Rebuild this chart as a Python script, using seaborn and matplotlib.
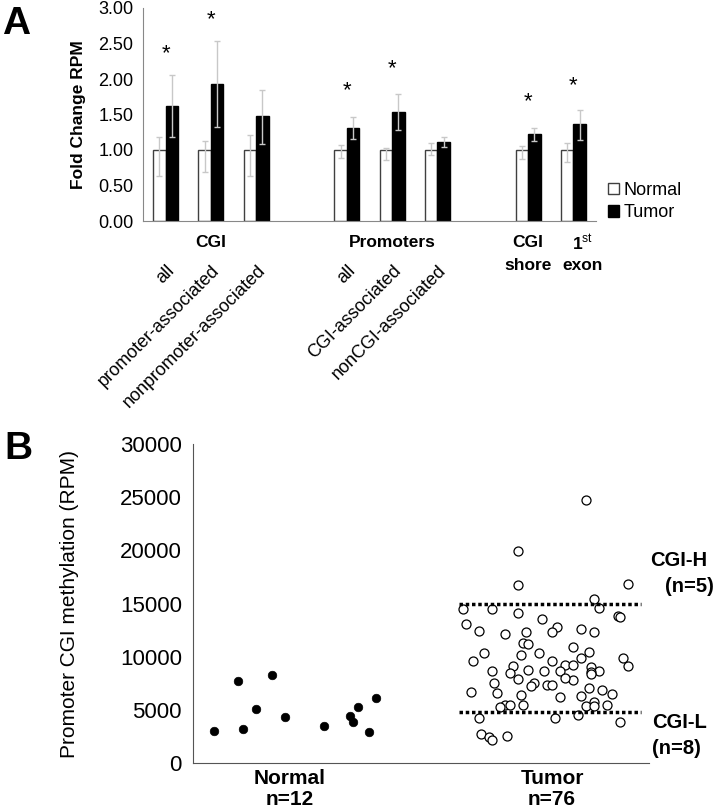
import matplotlib
matplotlib.use('Agg')
import matplotlib.pyplot as plt
from matplotlib.patches import Patch
import seaborn as sns
import pandas as pd
import numpy as np

# ---- panel A data: fold change RPM (normal = 1.00) ----
slot_keys = ['cgi_all', 'cgi_prom', 'cgi_nonprom', 'gap1',
             'prom_all', 'prom_cgi', 'prom_noncgi', 'gap2',
             'cgi_shore', 'exon1']
regions = ['cgi_all', 'cgi_prom', 'cgi_nonprom',
           'prom_all', 'prom_cgi', 'prom_noncgi',
           'cgi_shore', 'exon1']
region_labels = ['all', 'promoter-associated', 'nonpromoter-associated',
                 'all', 'CGI-associated', 'nonCGI-associated', '', '']
normal_mean = [1.00, 1.00, 1.00, 1.00, 1.00, 1.00, 1.00, 1.00]
normal_hi = [1.18, 1.12, 1.21, 1.07, 1.03, 1.10, 1.05, 1.10]
normal_lo = [0.64, 0.69, 0.64, 0.89, 0.86, 0.93, 0.87, 0.83]
tumor_mean = [1.62, 1.93, 1.48, 1.31, 1.54, 1.11, 1.22, 1.36]
tumor_hi = [2.06, 2.54, 1.84, 1.47, 1.79, 1.18, 1.31, 1.56]
tumor_lo = [1.19, 1.33, 1.09, 1.15, 1.28, 1.04, 1.12, 1.14]
star_y = [2.36, 2.84, None, 1.84, 2.14, None, 1.68, 1.90]

# ---- panel B data: promoter CGI methylation (RPM) ----
normal_rpm = [2975, 7700, 3160, 5040, 8270, 4320, 3440, 4420, 3850, 5230, 2940, 6075]
normal_jit = [-0.29, -0.20, -0.18, -0.13, -0.07, -0.02, 0.13, 0.23, 0.24, 0.26, 0.30, 0.33]
tumor_rpm = [24700, 19900,
             16750, 16800, 15470, 14600, 14500, 14500, 14150, 13870, 13750, 13530,
             13060, 12810, 12430, 12560, 12340, 12310, 12310, 12120, 11270, 11200,
             10870, 10330, 10300, 10200, 10460, 9900, 9870, 9610, 9580, 9110,
             9200, 9200, 9110, 9020, 8680, 8770, 8640, 8640, 8640, 8420,
             8550, 8330, 7890, 7800, 7490, 7490, 7230, 7330, 7330, 7080,
             6890, 6670, 6580, 6450, 6420, 6230, 6260, 5480, 5450, 5480,
             5230, 5730, 5480, 5390, 5390, 4540, 4230, 4230, 3880, 2760,
             2470, 2190, 2540, 8000]
tumor_jit = [0.13, -0.13,
             -0.13, 0.29, 0.16, 0.18, -0.34, -0.23, -0.13, 0.25, 0.26, -0.04,
             -0.33, 0.02, -0.28, 0.11, 0.16, -0.10, 0.00, -0.18, -0.11, -0.09,
             0.08, -0.26, -0.05, -0.12, 0.14, 0.11, 0.27, -0.30, 0.00, -0.15,
             0.05, 0.08, 0.29, 0.15, 0.18, -0.09, -0.03, 0.03, -0.23, -0.16,
             0.15, 0.15, -0.13, 0.08, -0.22, -0.07, -0.08, -0.02, 0.00, 0.14,
             0.19, -0.31, -0.21, 0.23, -0.12, 0.03, 0.11, -0.11, -0.18, -0.16,
             -0.20, 0.16, 0.21, 0.13, 0.16, 0.10, -0.28, 0.01, 0.26, -0.27,
             -0.24, -0.23, -0.17, 0.05]
cgi_h_cut = 15000
cgi_l_cut = 4800

sns.set_style('white')
plt.rcParams['font.family'] = ['Liberation Sans', 'DejaVu Sans']
plt.rcParams['mathtext.fontset'] = 'custom'
plt.rcParams['mathtext.rm'] = 'Liberation Sans'
plt.rcParams['text.color'] = 'black'
plt.rcParams['axes.labelcolor'] = 'black'
plt.rcParams['xtick.color'] = 'black'
plt.rcParams['ytick.color'] = 'black'

W, H = 718, 810
fig = plt.figure(figsize=(W / 100, H / 100), dpi=100)


def px_axes(left, top, right, bottom):
    return fig.add_axes([left / W, 1 - bottom / H, (right - left) / W, (bottom - top) / H])


# ================= Panel A =================
axA = px_axes(143, 8, 596, 221)
df_a = pd.DataFrame({
    'region': regions * 2,
    'group': ['Normal'] * len(regions) + ['Tumor'] * len(regions),
    'fold': normal_mean + tumor_mean,
})
sns.barplot(data=df_a, x='region', y='fold', hue='group', order=slot_keys,
            hue_order=['Normal', 'Tumor'], palette={'Normal': 'white', 'Tumor': 'black'},
            saturation=1, width=0.55, errorbar=None, legend=False, ax=axA,
            linewidth=1, edgecolor='#404040')

err_color = '#c8c8c8'
for cont, mean, hi, lo in [(axA.containers[0], normal_mean, normal_hi, normal_lo),
                           (axA.containers[1], tumor_mean, tumor_hi, tumor_lo)]:
    for bar in cont:
        cx = bar.get_x() + bar.get_width() / 2
        key = slot_keys[int(round(cx))]
        i = regions.index(key)
        axA.errorbar(cx, mean[i], yerr=[[mean[i] - lo[i]], [hi[i] - mean[i]]],
                     fmt='none', ecolor=err_color, elinewidth=1, capsize=2.5, capthick=1)
for bar in axA.containers[1]:
    bar.set_edgecolor('black')

for i, key in enumerate(regions):
    if star_y[i] is not None:
        axA.text(slot_keys.index(key), star_y[i], '*', ha='center', va='center', fontsize=16)

axA.set_xlim(-0.5, len(slot_keys) - 0.5)
axA.set_ylim(0, 3)
axA.set_yticks(np.arange(0, 3.01, 0.5))
axA.set_yticklabels([f'{v:.2f}' for v in np.arange(0, 3.01, 0.5)], fontsize=13)
axA.set_xticks(np.arange(-0.5, len(slot_keys), 1))
axA.set_xticklabels([])
axA.set_xlabel('')
axA.set_ylabel('Fold Change RPM', fontsize=12.5, fontweight='bold')
axA.yaxis.set_label_coords(-0.125, 0.5)
axA.tick_params(axis='both', length=4, color='#888888', width=1, pad=3)
sns.despine(ax=axA)
for s in ['left', 'bottom']:
    axA.spines[s].set_color('#888888')

xt = axA.get_xaxis_transform()
grp_kw = dict(transform=xt, ha='center', va='center', fontsize=12.5, fontweight='bold')
axA.text(1, -0.103, 'CGI', **grp_kw)
axA.text(5, -0.103, 'Promoters', **grp_kw)
axA.text(8, -0.103, 'CGI', **grp_kw)
axA.text(8, -0.21, 'shore', **grp_kw)
axA.text(9.2, -0.103, r'1$^{\mathrm{st}}$', **grp_kw)
axA.text(9.2, -0.21, 'exon', **grp_kw)
for key, lab in zip(regions, region_labels):
    if lab:
        axA.text(slot_keys.index(key) + 0.14, -0.22, lab, transform=xt, ha='right', va='center',
                 rotation=45, rotation_mode='anchor', fontsize=13)

fig.legend(handles=[Patch(facecolor='white', edgecolor='#404040', label='Normal'),
                    Patch(facecolor='black', edgecolor='black', label='Tumor')],
           loc='upper left', bbox_to_anchor=(608 / W, 1 - 182 / H), frameon=False,
           fontsize=13, handlelength=0.6, handleheight=0.6, handletextpad=0.25,
           labelspacing=0.3, borderaxespad=0, borderpad=0)

fig.text(2 / W, 1 - 24 / H, 'A', fontsize=28, fontweight='bold', va='center', ha='left')

# ================= Panel B =================
axB = px_axes(193, 444, 649, 763)
df_n = pd.DataFrame({'x': [1 + j for j in normal_jit], 'rpm': normal_rpm})
df_t = pd.DataFrame({'x': [2 + j for j in tumor_jit], 'rpm': tumor_rpm})
sns.scatterplot(data=df_n, x='x', y='rpm', color='black', s=38, edgecolor='black', ax=axB)
sns.scatterplot(data=df_t, x='x', y='rpm', color='white', s=42, edgecolor='black',
                linewidth=0.9, ax=axB)
axB.hlines([cgi_h_cut, cgi_l_cut], 1.645, 2.34, colors='black', linestyles=(0, (1, 0.8)), lw=2.5)

axB.set_xlim(0.63, 2.37)
axB.set_ylim(0, 30000)
axB.set_yticks(range(0, 30001, 5000))
axB.set_yticklabels([str(v) for v in range(0, 30001, 5000)], fontsize=16)
axB.set_xticks([1, 2])
axB.set_xticklabels(['Normal\nn=12', 'Tumor\nn=76'], fontsize=15, fontweight='bold', linespacing=1.15)
axB.tick_params(axis='x', length=0, pad=4)
axB.tick_params(axis='y', length=4, color='#555555', width=1, pad=4)
axB.set_xlabel('')
axB.set_ylabel('Promoter CGI methylation (RPM)', fontsize=15)
axB.yaxis.set_label_coords(-0.25, 0.5)
sns.despine(ax=axB)
for s in ['left', 'bottom']:
    axB.spines[s].set_color('#555555')

fig.text(650 / W, 1 - 561 / H, 'CGI-H', fontsize=14.5, fontweight='bold', va='center', ha='left')
fig.text(714 / W, 1 - 587 / H, '(n=5)', fontsize=14.5, fontweight='bold', va='center', ha='right')
fig.text(652 / W, 1 - 723 / H, 'CGI-L', fontsize=14.5, fontweight='bold', va='center', ha='left')
fig.text(652 / W, 1 - 748 / H, '(n=8)', fontsize=14.5, fontweight='bold', va='center', ha='left')
fig.text(4 / W, 1 - 449 / H, 'B', fontsize=28, fontweight='bold', va='center', ha='left')

fig.savefig('out.png', dpi=100)
